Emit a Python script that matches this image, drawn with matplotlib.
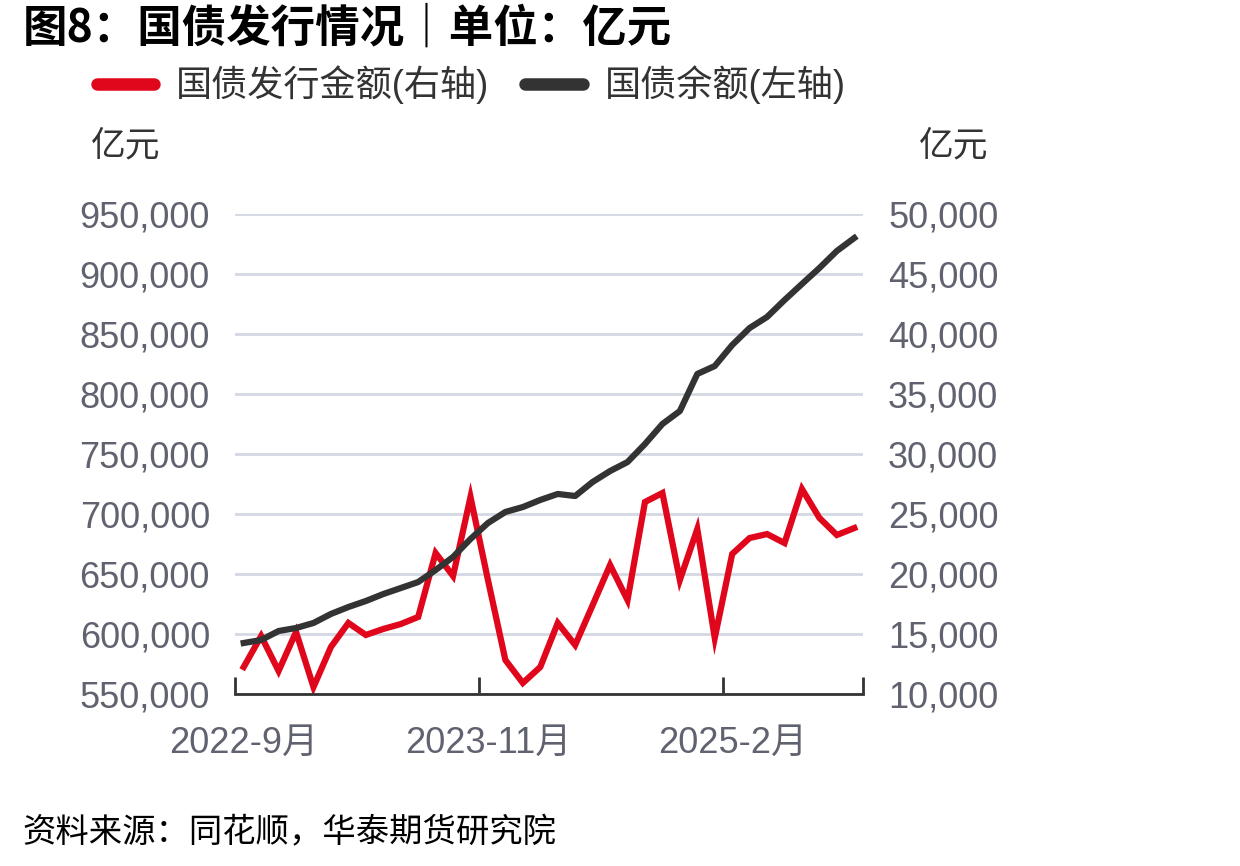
import numpy as np
import matplotlib
matplotlib.use('Agg')
import matplotlib.pyplot as plt
from matplotlib.lines import Line2D
from matplotlib.ticker import FuncFormatter

plt.rcParams['font.family'] = ['Liberation Sans', 'Noto Sans CJK SC']

# 国债发行金额 (right axis), 亿元, monthly
issue = [12250, 14830, 11920, 15170, 10580, 13920, 15920, 14920, 15420, 15830,
         16420, 21750, 19830, 26420, 19500, 12830, 10920, 12250, 15920, 14080,
         17400, 20750, 17830, 26000, 26750, 19500, 23750, 14670, 21670, 23000,
         23330, 22580, 27080, 24670, 23250, 23830]
# 国债余额 (left axis), 亿元
balance = [592500, 595000, 602500, 605000, 609200, 616700, 622500, 627500, 633300, 638300,
           643300, 653300, 664200, 679200, 692500, 701700, 705800, 711700, 716700, 715000,
           726700, 735800, 743300, 758300, 775000, 785800, 816700, 823300, 840800, 855000,
           864200, 878300, 891700, 905000, 919200, 930000]
label_idx = [0, 14, 28]
tick_labels = ['2022-9月', '2023-11月', '2025-2月']

red = '#e0061b'
dark = '#333333'
grey = '#60636f'
grid_c = '#d3d8e2'

fig = plt.figure(figsize=(12.4, 8.66), dpi=100)
ax2 = fig.add_axes([0.1895, 0.1986, 0.5065, 0.5543])
ax = ax2.twinx()
ax.set_zorder(ax2.get_zorder() + 1)
ax.patch.set_visible(False)

x = np.arange(len(issue))
ax2.plot(x, issue, color=red, lw=4.5, solid_joinstyle='miter')
ax.plot(x, balance, color=dark, lw=4.5)

ax.set_ylim(550000, 950000)
ax2.set_ylim(10000, 50000)
ax2.set_xlim(-0.5, len(issue) - 0.5)

ax.set_yticks(np.arange(550000, 950001, 50000))
ax2.set_yticks(np.arange(10000, 50001, 5000))
fmt = FuncFormatter(lambda v, p: f'{v:,.0f}')
ax.yaxis.set_major_formatter(fmt)
ax2.yaxis.set_major_formatter(fmt)

# twinx puts ax on the right; swap so black (left values) labels sit on the left
ax.yaxis.tick_left()
ax2.yaxis.tick_right()
ax.tick_params(axis='y', length=0, pad=18, labelsize=26, labelcolor=grey)
ax2.tick_params(axis='y', length=0, pad=18, labelsize=26, labelcolor=grey)

ax2.grid(axis='y', color=grid_c, lw=2)
for a in (ax, ax2):
    for s in ['left', 'right', 'top', 'bottom']:
        a.spines[s].set_visible(False)
ax.spines['bottom'].set_visible(True)
ax.spines['bottom'].set_color(dark)
ax.spines['bottom'].set_linewidth(2)

# x axis of the twin is hidden, so ticks live on ax2
ax2.set_xticks([-0.5, 13.5, 27.5, len(issue) - 0.5])
ax2.set_xticklabels([])
ax2.tick_params(axis='x', which='major', direction='in', length=12, width=2, color=dark)
ax2.set_xticks(label_idx, minor=True)
ax2.set_xticklabels(tick_labels, minor=True)
ax2.tick_params(axis='x', which='minor', length=0, pad=23, labelsize=26, labelcolor=grey)

fig.text(0.018, 0.967, '图8：国债发行情况｜单位：亿元', fontsize=32, fontweight='bold',
         color='black', va='center', ha='left', family=['Noto Sans CJK SC'])
fig.text(0.101, 0.832, '亿元', fontsize=25, color=dark, ha='center', va='center')
fig.text(0.769, 0.832, '亿元', fontsize=25, color=dark, ha='center', va='center')
fig.text(0.018, 0.038, '资料来源：同花顺，华泰期货研究院', fontsize=24, color='black',
         ha='left', va='center', style='italic')

handles = [Line2D([], [], color=red, lw=9, solid_capstyle='round'),
           Line2D([], [], color=dark, lw=9, solid_capstyle='round')]
fig.legend(handles, ['国债发行金额(右轴)', '国债余额(左轴)'], loc='center',
           bbox_to_anchor=(0.38, 0.902), ncol=2, frameon=False, fontsize=26,
           labelcolor=dark, handlelength=1.6, handletextpad=0.6, columnspacing=1.0)

fig.savefig('out.png', dpi=100)
